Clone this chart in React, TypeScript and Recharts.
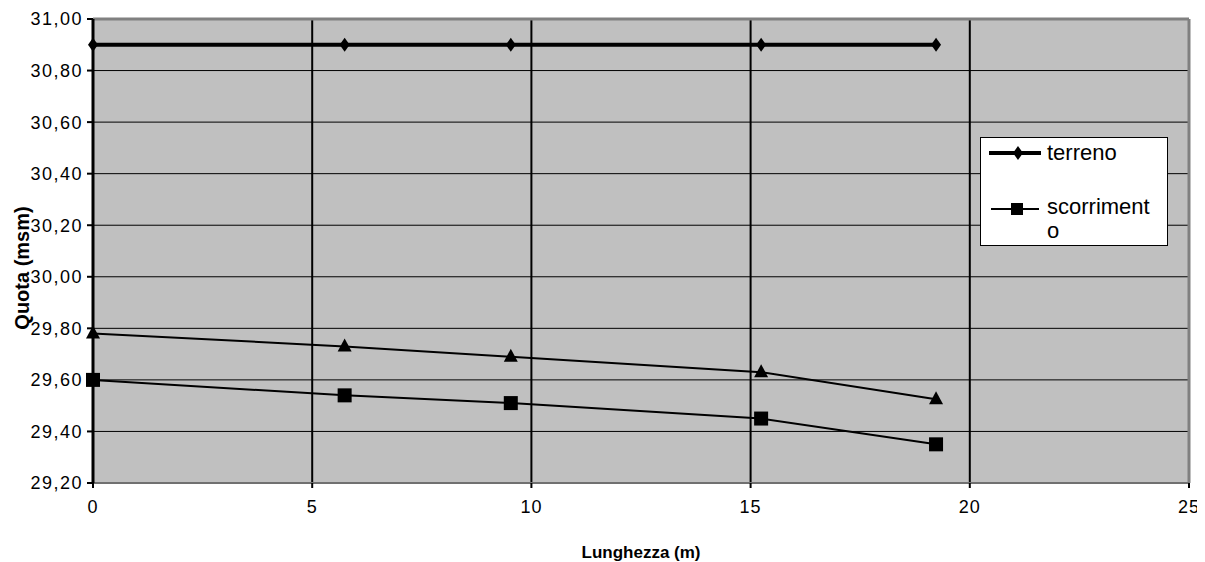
import React from 'react';
import {
  ComposedChart,
  Line,
  XAxis,
  YAxis,
  CartesianGrid,
  Legend,
  ReferenceLine,
} from 'recharts';

const lengths = [0, 5.74, 9.53, 15.24, 19.23];
const terreno = [30.9, 30.9, 30.9, 30.9, 30.9];
const scorrimento = [29.6, 29.54, 29.51, 29.45, 29.35];
const pelo = [29.78, 29.73, 29.69, 29.63, 29.525];
const xTicks = [0, 5, 10, 15, 20, 25];
const yTicks = [29.2, 29.4, 29.6, 29.8, 30.0, 30.2, 30.4, 30.6, 30.8, 31.0];

const data = lengths.map((x, i) => ({
  x,
  terreno: terreno[i],
  scorrimento: scorrimento[i],
  pelo: pelo[i],
}));

const FONT = '"Liberation Sans", Arial, sans-serif';

const Diamond = (props: any) => {
  const { cx, cy } = props;
  if (cx == null || cy == null) return null;
  return (
    <path
      d={`M${cx},${cy - 7} L${cx + 5},${cy} L${cx},${cy + 7} L${cx - 5},${cy} Z`}
      fill="#000"
    />
  );
};

const Square = (props: any) => {
  const { cx, cy } = props;
  if (cx == null || cy == null) return null;
  const s = 7;
  return <rect x={cx - s} y={cy - s} width={2 * s} height={2 * s} fill="#000" />;
};

const Triangle = (props: any) => {
  const { cx, cy } = props;
  if (cx == null || cy == null) return null;
  return (
    <path
      d={`M${cx},${cy - 8} L${cx + 7},${cy + 5} L${cx - 7},${cy + 5} Z`}
      fill="#000"
    />
  );
};

const LegendBox = () => (
  <div
    style={{
      width: 186,
      height: 107,
      background: '#fff',
      border: '1px solid #000',
      fontFamily: FONT,
      fontSize: 22,
      color: '#000',
      position: 'relative',
    }}
  >
    <svg width={60} height={20} style={{ position: 'absolute', left: 8, top: 5 }}>
      <line x1={0} y1={10} x2={52} y2={10} stroke="#000" strokeWidth={4} />
      <path d="M29,3 L34,10 L29,17 L24,10 Z" fill="#000" />
    </svg>
    <div style={{ position: 'absolute', left: 66, top: 2, lineHeight: '26px' }}>terreno</div>
    <svg width={60} height={20} style={{ position: 'absolute', left: 10, top: 61 }}>
      <line x1={0} y1={10} x2={48} y2={10} stroke="#000" strokeWidth={2} />
      <rect x={20} y={4} width={12} height={12} fill="#000" />
    </svg>
    <div style={{ position: 'absolute', left: 66, top: 57, lineHeight: '24px' }}>
      scorriment
      <br />o
    </div>
  </div>
);

export default function App() {
  return (
    <div style={{ width: 1205, height: 554, marginLeft: -8 }}>
      <ComposedChart
        width={1205}
        height={554}
        data={data}
        margin={{ top: 11, right: 16, bottom: 0, left: 8 }}
        style={{ fontFamily: FONT }}
      >
        <CartesianGrid
          horizontal={false}
          vertical={true}
          stroke="#000"
          strokeWidth={2}
          fill="#C0C0C0"
        />
        <CartesianGrid horizontal={true} vertical={false} stroke="#000" strokeWidth={1} />
        <XAxis
          dataKey="x"
          type="number"
          domain={[0, 25]}
          ticks={xTicks}
          interval={0}
          height={79}
          tickSize={5}
          tickMargin={12}
          axisLine={{ stroke: '#707070', strokeWidth: 2 }}
          tickLine={{ stroke: '#000', strokeWidth: 2 }}
          tick={{ fill: '#000', fontSize: 18, fontFamily: FONT, letterSpacing: 1 }}
          label={{
            value: 'Lunghezza (m)',
            position: 'insideBottom',
            offset: 4,
            style: { fontWeight: 'bold', fontSize: 17, fill: '#000', fontFamily: FONT },
          }}
        />
        <YAxis
          type="number"
          domain={[29.2, 31.0]}
          ticks={yTicks}
          interval={0}
          width={85}
          tickSize={6}
          tickMargin={4}
          tickFormatter={(v: number) => v.toFixed(2).replace('.', ',')}
          axisLine={{ stroke: '#000', strokeWidth: 3 }}
          tickLine={{ stroke: '#000', strokeWidth: 2 }}
          tick={{ fill: '#000', fontSize: 18, fontFamily: FONT, letterSpacing: 1.5 }}
          label={{
            value: 'Quota (msm)',
            angle: -90,
            position: 'center',
            dx: -29,
            dy: 17,
            style: { fontWeight: 'bold', fontSize: 20, fill: '#000', fontFamily: FONT, textAnchor: 'middle' },
          }}
        />
        <ReferenceLine y={31} stroke="#808080" strokeWidth={3} ifOverflow="extendDomain" />
        <ReferenceLine x={25} stroke="#808080" strokeWidth={3} ifOverflow="extendDomain" />
        <Legend
          content={<LegendBox />}
          layout="horizontal"
          verticalAlign="middle"
          align="center"
          wrapperStyle={{ position: 'absolute', left: 980, top: 129, width: 188, height: 109 }}
        />
        <Line
          dataKey="pelo"
          stroke="#000"
          strokeWidth={2}
          dot={<Triangle />}
          activeDot={false}
          isAnimationActive={false}
          legendType="none"
        />
        <Line
          dataKey="scorrimento"
          stroke="#000"
          strokeWidth={2}
          dot={<Square />}
          activeDot={false}
          isAnimationActive={false}
        />
        <Line
          dataKey="terreno"
          stroke="#000"
          strokeWidth={4}
          dot={<Diamond />}
          activeDot={false}
          isAnimationActive={false}
        />
      </ComposedChart>
    </div>
  );
}
